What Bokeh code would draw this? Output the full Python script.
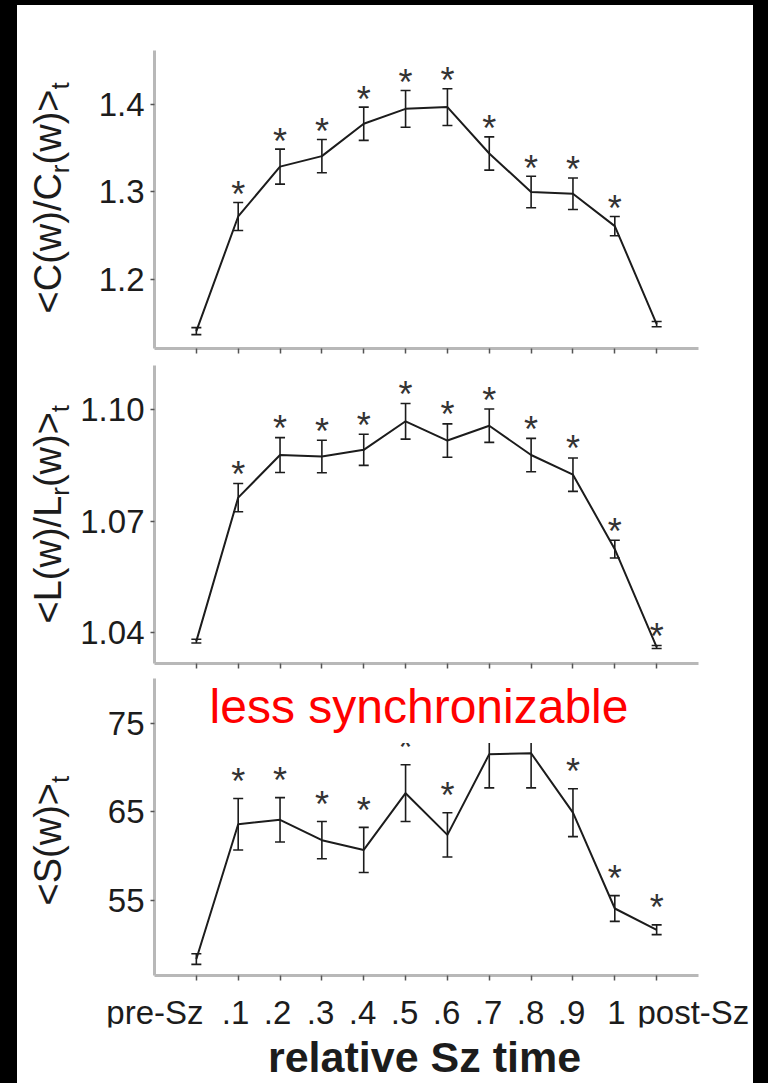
import math
from bokeh.plotting import figure
from bokeh.models import (ColumnDataSource, Whisker, TeeHead, FixedTicker,
                          Label, Range1d)
from bokeh.layouts import column, row
from bokeh.core.properties import value, field
from bokeh.embed import file_html
from bokeh.resources import INLINE

# ---------------- data ----------------
categories = ["pre-Sz", ".1", ".2", ".3", ".4", ".5", ".6", ".7", ".8", ".9", "1", "post-Sz"]

c_mean = [1.141, 1.272, 1.329, 1.341, 1.378, 1.395, 1.397, 1.344, 1.300, 1.298, 1.261, 1.149]
c_err = [0.004, 0.016, 0.020, 0.019, 0.019, 0.021, 0.021, 0.019, 0.018, 0.018, 0.011, 0.003]
c_sig = [0, 1, 1, 1, 1, 1, 1, 1, 1, 1, 1, 0]

l_mean = [1.0376, 1.0763, 1.0878, 1.0874, 1.0892, 1.0969, 1.0917, 1.0957, 1.0878, 1.0825, 1.0624, 1.0360]
l_err = [0.0005, 0.0038, 0.0047, 0.0044, 0.0042, 0.0048, 0.0045, 0.0045, 0.0045, 0.0045, 0.0024, 0.0004]
l_sig = [0, 1, 1, 1, 1, 1, 1, 1, 1, 1, 1, 1]

s_mean = [48.4, 63.6, 64.1, 61.8, 60.7, 67.1, 62.4, 71.5, 71.6, 64.9, 54.1, 51.7]
s_err = [0.6, 2.9, 2.5, 2.1, 2.55, 3.2, 2.5, 3.8, 3.9, 2.7, 1.45, 0.55]
s_sig = [0, 1, 1, 1, 1, 1, 1, 1, 1, 1, 1, 1]

c_ticks = [1.2, 1.3, 1.4]
c_tick_labels = ["1.2", "1.3", "1.4"]
l_ticks = [1.04, 1.07, 1.10]
l_tick_labels = ["1.04", "1.07", "1.10"]
s_ticks = [55, 65, 75]
s_tick_labels = ["55", "65", "75"]

x_title = "relative Sz time"
note_text = "less synchronizable"
c_label = [("<C(w)/C", "main"), ("r", "sub"), ("(w)>", "main"), ("t", "sub")]
l_label = [("<L(w)/L", "main"), ("r", "sub"), ("(w)>", "main"), ("t", "sub")]
s_label = [("<S(w)>", "main"), ("t", "sub")]

# ---------------- layout / style (page pixels) ----------------
FONT = "Liberation Sans"
INK = "#1c1c1c"
AXIS_GRAY = "#b8b8b8"
PAGE_L, PAGE_T = 17, 5
LAB_W = 60
MAIN_L = PAGE_L + LAB_W           # 77
RIGHT = 753
FRAME_L, FRAME_R = 152, 698
X_LO, X_HI = -1.0, 12.0
TICK0_PX, TICK_STEP = 194, 42
BASE_SHIFT = 0.27                 # rendered baseline sits this many em below anchor

MAIN_SIZE, SUB_SIZE, SUB_SHIFT = 38, 26, 9
LABEL_BASE_PX = 58
STAR_SIZE = 36
STAR_LIFT = 3                     # asterisk centre sits this far above its anchor
CAT_SIZE = 33
CAT_BASE_PX = 1024
STRIP_TOP, STRIP_FRAME_BOT, PAGE_B = 985, 1032, 1083
TITLE_SIZE, TITLE_STANDOFF = 43, 5

ARIAL_W = {'<': .584, '>': .584, 'C': .722, 'L': .556, 'S': .667, '(': .333,
           ')': .333, 'w': .722, '/': .278, 'r': .333, 't': .278}


def text_w(s, size):
    return sum(ARIAL_W.get(ch, .556) for ch in s) * size


def xd(px):
    return X_LO + (px - FRAME_L) * (X_HI - X_LO) / (FRAME_R - FRAME_L)


xpos = list(range(len(categories)))


def make_panel(mean, err, sig, ticks, tick_labels, ylo, yhi,
               fig_top, fig_h, ftop, fbot, star_gap):
    dpp = (yhi - ylo) / (fbot - ftop)

    def yd(py):
        return ylo + (fbot - py) * dpp

    p = figure(width=RIGHT - MAIN_L, height=fig_h,
               x_range=Range1d(X_LO, X_HI), y_range=Range1d(ylo, yhi),
               output_backend="svg", toolbar_location=None,
               min_border_left=FRAME_L - MAIN_L,
               min_border_right=RIGHT - FRAME_R,
               min_border_top=ftop - fig_top,
               min_border_bottom=fig_top + fig_h - fbot,
               background_fill_color="white", border_fill_color="white",
               outline_line_color=None)
    p.grid.visible = False

    upper = [m + e for m, e in zip(mean, err)]
    lower = [m - e for m, e in zip(mean, err)]
    src = ColumnDataSource(dict(x=xpos, y=mean, upper=upper, lower=lower))

    p.line("x", "y", source=src, line_color=INK, line_width=2)
    head = dict(size=10, line_color=INK, line_width=1.6)
    p.add_layout(Whisker(source=src, base="x", upper="upper", lower="lower",
                         line_color=INK, line_width=1.6,
                         upper_head=TeeHead(**head), lower_head=TeeHead(**head)))

    sx, sy = [], []
    for xi, u, s in zip(xpos, upper, sig):
        if s:
            sx.append(xi)
            sy.append(u + (star_gap - STAR_LIFT) * dpp)
    star_src = ColumnDataSource(dict(x=sx, y=sy, t=["*"] * len(sx)))
    p.text(x="x", y="y", text="t", source=star_src, text_font=value(FONT),
           text_font_size=f"{STAR_SIZE}px", text_align="center",
           text_baseline="alphabetic", text_color="#333333")

    for ax in (p.xaxis[0], p.yaxis[0]):
        ax.axis_line_color = AXIS_GRAY
        ax.axis_line_width = 3
        ax.major_tick_line_color = "#555555"
        ax.major_tick_line_width = 1.5
        ax.major_tick_in = 0
        ax.minor_tick_line_color = None
    p.xaxis.major_tick_out = 5
    p.yaxis.major_tick_out = 4
    p.xaxis.ticker = FixedTicker(ticks=xpos)
    p.xaxis.major_label_overrides = {i: "" for i in xpos}
    p.xaxis.major_label_text_font_size = "0px"
    p.xaxis.major_label_standoff = 0

    p.yaxis.ticker = FixedTicker(ticks=ticks)
    p.yaxis.major_label_overrides = {t: lab for t, lab in zip(ticks, tick_labels)}
    p.yaxis.major_label_text_font = FONT
    p.yaxis.major_label_text_font_size = "33px"
    p.yaxis.major_label_text_color = INK
    p.yaxis.major_label_standoff = 6
    return p, yd


p1, _ = make_panel(c_mean, c_err, c_sig, c_ticks, c_tick_labels,
                   1.1211, 1.4617, PAGE_T, 352, 50, 348, 11)
p2, _ = make_panel(l_mean, l_err, l_sig, l_ticks, l_tick_labels,
                   1.03156, 1.11195, 357, 313, 365, 663, 12)
p3, yd3 = make_panel(s_mean, s_err, s_sig, s_ticks, s_tick_labels,
                     46.545, 80.03, 670, 315, 678, 975, 20)

# red note with white box (covers the tops of .7/.8 as in the original)
NOTE_SIZE = 48
p3.add_layout(Label(x=xd(417.5), y=yd3(719 - BASE_SHIFT * NOTE_SIZE), text=note_text,
                    text_align="center", text_baseline="alphabetic",
                    text_font=FONT, text_font_size=f"{NOTE_SIZE}px",
                    text_color="#ff0000", background_fill_color="white",
                    padding=10))

# ---------------- y-axis titles (with subscripts) ----------------
lab = figure(width=LAB_W, height=STRIP_TOP - PAGE_T,
             x_range=Range1d(PAGE_L, MAIN_L), y_range=Range1d(-STRIP_TOP, -PAGE_T),
             output_backend="svg", toolbar_location=None, min_border=0,
             x_axis_location=None, y_axis_location=None,
             background_fill_color="white", border_fill_color="white",
             outline_line_color=None)
lab.grid.visible = False

pieces = {"main": dict(x=[], y=[], t=[]), "sub": dict(x=[], y=[], t=[])}
for label_pieces, start in ((c_label, 313), (l_label, 623), (s_label, 905)):
    pos = start
    for txt, kind in label_pieces:
        size = MAIN_SIZE if kind == "main" else SUB_SIZE
        base = LABEL_BASE_PX + (SUB_SHIFT if kind == "sub" else 0)
        pieces[kind]["x"].append(base - BASE_SHIFT * size)
        pieces[kind]["y"].append(-pos)
        pieces[kind]["t"].append(txt)
        pos -= text_w(txt, size)
for kind, size in (("main", MAIN_SIZE), ("sub", SUB_SIZE)):
    lab.text(x="x", y="y", text="t", source=ColumnDataSource(pieces[kind]),
             angle=math.pi / 2, text_align="left", text_baseline="alphabetic",
             text_font=value(FONT), text_font_size=f"{size}px", text_color=INK)

# ---------------- category labels + x title strip ----------------
STRIP_FRAME_L = 95
strip = figure(width=RIGHT - PAGE_L, height=PAGE_B - STRIP_TOP,
               x_range=Range1d(xd(STRIP_FRAME_L), xd(RIGHT)),
               y_range=Range1d(-STRIP_FRAME_BOT, -STRIP_TOP),
               output_backend="svg", toolbar_location=None,
               min_border_left=STRIP_FRAME_L - PAGE_L, min_border_right=0,
               min_border_top=0, min_border_bottom=PAGE_B - STRIP_FRAME_BOT,
               y_axis_location=None,
               background_fill_color="white", border_fill_color="white",
               outline_line_color=None)
strip.grid.visible = False
ax = strip.xaxis[0]
ax.ticker = FixedTicker(ticks=[])
ax.axis_line_color = None
ax.major_tick_line_color = None
ax.minor_tick_line_color = None
ax.major_label_text_font_size = "0px"
ax.major_label_standoff = 0
ax.major_tick_out = 0
ax.axis_label = x_title
ax.axis_label_text_font = FONT
ax.axis_label_text_font_style = "bold"
ax.axis_label_text_font_size = f"{TITLE_SIZE}px"
ax.axis_label_text_color = INK
ax.axis_label_standoff = TITLE_STANDOFF

align = ["right"] + ["center"] * 10 + ["left"]
nudge_px = [9, -1, -1, 0, 0, 0, 0, 0, 0, -1, 2, -19]
lx = [xd(TICK0_PX + TICK_STEP * i + n) for i, n in zip(xpos, nudge_px)]
ly = [-(CAT_BASE_PX - BASE_SHIFT * CAT_SIZE)] * len(xpos)
strip.text(x="x", y="y", text="text",
           source=ColumnDataSource(dict(x=lx, y=ly, text=categories, align=align)),
           text_align=field("align"), text_baseline="alphabetic",
           text_font=value(FONT), text_font_size=f"{CAT_SIZE}px", text_color=INK)

layout = column(row(lab, column(p1, p2, p3, spacing=0), spacing=0), strip,
                spacing=0, margin=(PAGE_T, 0, 0, PAGE_L),
                styles={"background-color": "white"})

html = file_html(layout, INLINE, title="relative Sz time")
html = html.replace("</head>",
                    "<style>html,body{background:#000;overflow:hidden;margin:0;}</style></head>", 1)
open("out.html", "w").write(html)
